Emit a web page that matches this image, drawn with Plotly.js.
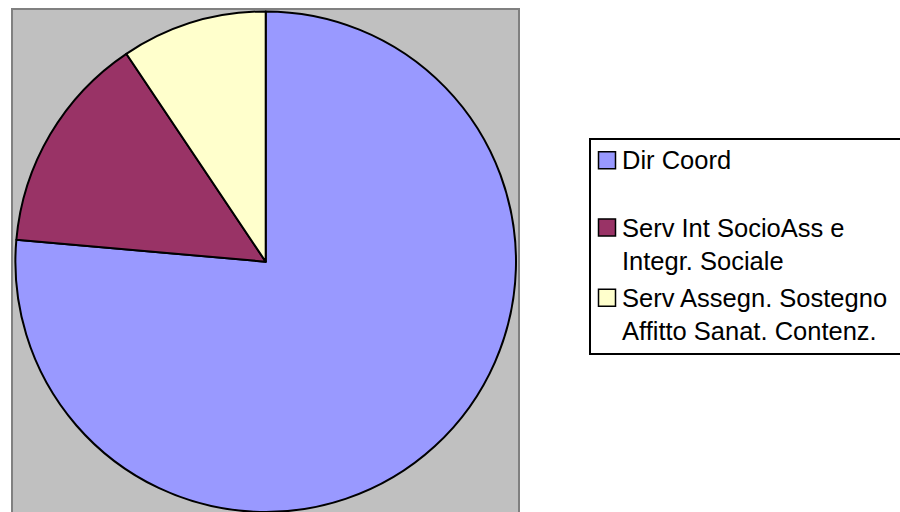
<!DOCTYPE html>
<html>
<head>
<meta charset="utf-8">
<script src="https://cdn.plot.ly/plotly-3.0.1.min.js"></script>
<style>
html,body{margin:0;padding:0;background:#fff;overflow:hidden;}
#chart{width:900px;height:512px;}
</style>
</head>
<body>
<div id="chart"></div>
<script>
// Data
const categories = ['Dir Coord', 'Serv Int SocioAss e Integr. Sociale', 'Serv Assegn. Sostegno Affitto Sanat. Contenz.'];
const values = [76.4, 14.2, 9.4];
const colors = ['#9999FF', '#993366', '#FFFFCC'];
// legend text as wrapped in the reference
const legendLines = [
  ['Dir Coord'],
  ['Serv Int SocioAss e', 'Integr. Sociale'],
  ['Serv Assegn. Sostegno', 'Affitto Sanat. Contenz.']
];

const W = 900, H = 512;
const xp = px => px / W;
const yp = py => (H - py) / H;

const cx = 265.7, cy = 261.7, r = 250.3;

const trace = {
  type: 'pie',
  labels: categories,
  values: values,
  sort: false,
  direction: 'clockwise',
  rotation: 0,
  textinfo: 'none',
  hoverinfo: 'label+percent',
  showlegend: false,
  marker: {colors: colors, line: {color: '#000000', width: 2}},
  domain: {x: [xp(cx - r - 0.5), xp(cx + r + 0.5)], y: [yp(cy + r), yp(cy - r)]}
};

const shapes = [
  // plot area background
  {type: 'rect', xref: 'paper', yref: 'paper', layer: 'below',
   x0: xp(12), x1: xp(519), y0: yp(9), y1: yp(530),
   fillcolor: '#C0C0C0', line: {color: '#808080', width: 2}},
  // legend box
  {type: 'rect', xref: 'paper', yref: 'paper', layer: 'above',
   x0: xp(590), x1: xp(910), y0: yp(139), y1: yp(354),
   fillcolor: 'rgba(255,255,255,0)', line: {color: '#000000', width: 2}}
];

const annotations = [];
const fs = 25.5;
const lineStep = 1.3 * fs;
const itemCenter = [160.3, 244.0, 314.3];
legendLines.forEach((lines, i) => {
  const yc = itemCenter[i];
  const firstLine = yc - (lines.length - 1) * lineStep / 2;
  shapes.push({type: 'rect', xref: 'paper', yref: 'paper', layer: 'above',
    x0: xp(598.5), x1: xp(615.5), y0: yp(firstLine - 8.5), y1: yp(firstLine + 8.5),
    fillcolor: colors[i], line: {color: '#000000', width: 1.5}});
  annotations.push({xref: 'paper', yref: 'paper', x: xp(620), y: yp(yc),
    xanchor: 'left', yanchor: 'middle', align: 'left', showarrow: false,
    text: lines.join('<br>'),
    font: {family: 'Arial, "Liberation Sans", sans-serif', size: fs, color: '#000000'}});
});

const layout = {
  width: W, height: H,
  margin: {l: 0, r: 0, t: 0, b: 0},
  paper_bgcolor: '#FFFFFF',
  showlegend: false,
  shapes: shapes,
  annotations: annotations
};

Plotly.newPlot('chart', [trace], layout, {displayModeBar: false, staticPlot: true});
</script>
</body>
</html>
